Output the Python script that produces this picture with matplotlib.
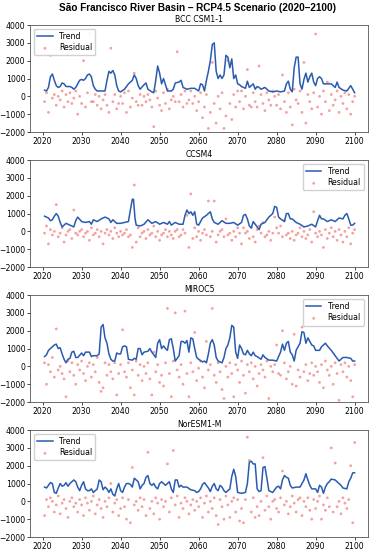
import matplotlib
matplotlib.use("Agg")
import matplotlib.pyplot as plt
import numpy as np

models = ["BCC CSM1-1", "CCSM4", "MIROC5", "NorESM1-M"]
legend_locs = ["upper left", "upper right", "upper right", "upper left"]

# trend (smoothed): (year, value)
bcc_x = [2020.5, 2021, 2021.5, 2022, 2022.5, 2023, 2023.5, 2024, 2024.5, 2025, 2025.5, 2026, 2027, 2027.5, 2028,
         2028.5, 2029, 2029.5, 2030, 2030.5, 2031, 2031.5, 2032, 2032.5, 2033, 2033.5, 2034, 2035, 2036, 2036.5,
         2037, 2037.5, 2038, 2038.5, 2039, 2039.5, 2040, 2041, 2042, 2043, 2043.5, 2044, 2044.5, 2045, 2046,
         2046.5, 2047, 2048, 2048.5, 2049, 2049.5, 2050, 2050.5, 2051, 2051.5, 2052, 2053, 2053.5, 2054, 2055,
         2055.5, 2056, 2057, 2058, 2059, 2060, 2060.5, 2061, 2061.5, 2062, 2062.5, 2063, 2063.5, 2064, 2064.5,
         2065, 2065.5, 2066, 2066.5, 2067, 2067.5, 2068, 2068.5, 2069, 2069.5, 2070, 2070.5, 2071, 2072, 2072.5,
         2073, 2074, 2074.5, 2075, 2075.5, 2076, 2077, 2078, 2079, 2080, 2081, 2082, 2082.5, 2083, 2083.5, 2084,
         2084.5, 2085, 2085.5, 2086, 2086.5, 2087, 2087.5, 2088, 2088.5, 2089, 2089.5, 2090, 2090.5, 2091, 2091.5,
         2092, 2094, 2095, 2095.5, 2096, 2097, 2098, 2099, 2099.5, 2100]
bcc_y = [350, 300, 500, 1100, 1250, 900, 600, 500, 550, 750, 700, 550, 550, 500, 400,
         500, 700, 900, 950, 900, 1000, 1200, 1250, 1100, 600, 400, 300, 300, 300, 900,
         1400, 1300, 1450, 1200, 600, 300, 250, 400, 700, 900, 1200, 1000, 600, 400, 650,
         750, 400, 250, 200, 900, 1700, 1300, 700, 1000, 650, 300, 300, 400, 750, 800,
         900, 500, 400, 450, 450, 300, 700, 650, 300, 900, 1400, 2000, 2900, 3000, 1400,
         1000, 1200, 1000, 1200, 2300, 2200, 1600, 2100, 1000, 1200, 700, 650, 550, 450, 850,
         500, 700, 400, 550, 500, 400, 500, 300, 250, 300, 250, 300, 700, 850, 400, 250,
         1600, 2200, 2200, 700, 400, 950, 1300, 800, 1100, 1300, 800, 600, 1000, 1100, 1000,
         700, 700, 500, 800, 500, 350, 300, 600, 400, 200]

ccsm_x = [2020.5, 2021.5, 2022, 2022.5, 2023, 2023.5, 2024, 2024.5, 2025, 2026, 2027, 2028, 2028.5, 2029, 2030,
          2031, 2032, 2032.5, 2033, 2034, 2035, 2036, 2037, 2037.5, 2038, 2039, 2040, 2041, 2042, 2042.5,
          2043, 2043.3, 2043.7, 2044, 2045, 2046, 2047, 2048, 2049, 2050, 2051, 2052, 2052.5, 2053, 2054,
          2055, 2056, 2056.5, 2057, 2057.5, 2058, 2058.5, 2059, 2059.5, 2060, 2061, 2062, 2063, 2063.5, 2064,
          2065, 2066, 2067, 2068, 2069, 2070, 2071, 2071.5, 2072, 2072.5, 2073, 2073.5, 2074, 2075, 2075.5,
          2076, 2077, 2078, 2079, 2079.5, 2080, 2080.5, 2081, 2082, 2082.5, 2083, 2083.5, 2084, 2085, 2086,
          2087, 2088, 2089, 2090, 2090.5, 2091, 2091.5, 2092, 2093, 2094, 2095, 2096, 2097, 2097.5, 2098,
          2098.5, 2099, 2099.5, 2100]
ccsm_y = [850, 750, 600, 650, 850, 1000, 850, 500, 250, 450, 350, 250, 600, 800, 550,
          500, 550, 400, 650, 550, 700, 800, 700, 500, 650, 450, 450, 500, 550, 1200,
          1800, 1800, 700, 350, 300, 400, 650, 450, 550, 400, 500, 400, 550, 350, 500,
          400, 400, 900, 1200, 1000, 1100, 900, 1100, 400, 350, 750, 900, 1100, 700, 500,
          400, 600, 450, 450, 500, 350, 500, 900, 950, 700, 300, 200, 550, 250, 100,
          400, 500, 800, 1000, 1400, 1350, 800, 700, 550, 1000, 1000, 700, 700, 500, 400,
          250, 300, 400, 250, 600, 900, 700, 700, 550, 650, 550, 750, 700, 900, 1000,
          700, 350, 350, 450]

miroc_x = [2020.5, 2021, 2021.5, 2022, 2022.5, 2023, 2023.5, 2024, 2024.5, 2025, 2025.5, 2026, 2026.5, 2027,
           2027.5, 2028, 2028.5, 2029, 2030, 2030.5, 2031, 2032, 2032.5, 2033, 2034, 2034.5, 2035, 2035.5,
           2036, 2036.5, 2037, 2037.5, 2038, 2038.5, 2039, 2039.5, 2040, 2040.5, 2041, 2041.5, 2042, 2043,
           2043.5, 2044, 2044.5, 2045, 2045.5, 2046, 2047, 2047.5, 2048, 2049, 2049.5, 2050, 2050.5, 2051,
           2051.5, 2052, 2052.5, 2053, 2053.5, 2054, 2055, 2055.5, 2056, 2056.5, 2057, 2057.5, 2058, 2058.5,
           2059, 2059.5, 2060, 2061, 2061.5, 2062, 2062.5, 2063, 2063.5, 2064, 2064.5, 2065, 2066, 2066.5,
           2067, 2067.5, 2068, 2068.5, 2069, 2069.5, 2070, 2070.5, 2071, 2071.5, 2072, 2072.5, 2073, 2073.5,
           2074, 2074.5, 2075, 2076, 2076.5, 2077, 2078, 2079, 2080, 2081, 2081.5, 2082, 2082.5, 2083,
           2083.5, 2084, 2084.5, 2085, 2086, 2086.5, 2087, 2087.5, 2088, 2088.5, 2089, 2089.5, 2090, 2091,
           2091.5, 2092, 2092.5, 2093, 2094, 2095, 2096, 2096.5, 2097, 2098, 2099, 2099.5, 2100]
miroc_y = [550, 650, 900, 1000, 1100, 1200, 1250, 1000, 1050, 700, 400, 200, 400, 450,
           800, 850, 500, 500, 750, 600, 800, 800, 550, 600, 600, 700, 2200, 2350,
           1600, 1300, 700, 400, 300, 300, 750, 700, 700, 1100, 1150, 1100, 400, 350,
           450, 400, 1000, 1000, 650, 800, 850, 1000, 800, 500, 1300, 1500, 1000, 1150,
           1000, 900, 1500, 1550, 1000, 300, 600, 1400, 1400, 1300, 1450, 800, 1600, 1550,
           1000, 500, 400, 250, 300, 200, 700, 1300, 1500, 1200, 500, 300, 200, 500,
           1000, 1200, 1600, 2300, 2200, 800, 450, 1200, 1000, 700, 650, 900, 700, 600,
           800, 600, 550, 400, 650, 500, 350, 350, 300, 800, 1250, 900, 1300, 1400,
           800, 650, 300, 900, 1300, 1950, 1900, 1300, 1600, 1400, 1200, 1150, 900, 900,
           1100, 1200, 1300, 1150, 900, 600, 300, 400, 500, 500, 450, 300, 300]

nor_x = [2020.5, 2021, 2021.5, 2022, 2022.5, 2023, 2023.5, 2024, 2024.5, 2025, 2025.5, 2026, 2026.5, 2027,
         2027.5, 2028, 2028.5, 2029, 2029.5, 2030, 2030.5, 2031, 2031.5, 2032, 2032.5, 2033, 2033.5, 2034,
         2034.5, 2035, 2035.5, 2036, 2036.5, 2037, 2037.5, 2038, 2038.5, 2039, 2039.5, 2040, 2040.5, 2041,
         2041.5, 2042, 2042.5, 2043, 2043.5, 2044, 2044.5, 2045, 2045.5, 2046, 2046.5, 2047, 2047.5, 2048,
         2048.5, 2049, 2049.5, 2050, 2050.5, 2051, 2051.5, 2052, 2052.5, 2053, 2053.5, 2054, 2054.5, 2055,
         2055.5, 2056, 2057, 2058, 2059, 2059.5, 2060, 2060.5, 2061, 2061.5, 2062, 2062.5, 2063, 2063.5,
         2064, 2064.5, 2065, 2065.5, 2066, 2066.5, 2067, 2068, 2068.5, 2069, 2069.5, 2070, 2071, 2072,
         2072.5, 2073, 2073.5, 2074, 2074.5, 2075, 2075.5, 2076, 2076.5, 2077, 2077.5, 2078, 2079, 2080,
         2080.5, 2081, 2081.5, 2082, 2082.5, 2083, 2083.5, 2084, 2085, 2086, 2086.5, 2087, 2087.5, 2088,
         2088.5, 2089, 2090, 2090.5, 2091, 2091.5, 2092, 2092.5, 2093, 2093.5, 2094, 2095, 2096, 2096.5,
         2097, 2098, 2098.5, 2099, 2099.5, 2100]
nor_y = [800, 750, 900, 1050, 1000, 500, 450, 750, 1000, 850, 900, 1050, 850, 1000,
         1100, 1200, 1100, 800, 600, 900, 1100, 700, 600, 600, 700, 500, 600, 700,
         1200, 1100, 650, 800, 700, 500, 700, 400, 300, 700, 1000, 600, 500, 800,
         1000, 1000, 950, 800, 1300, 1200, 1100, 700, 900, 1000, 1350, 1450, 1000, 900,
         1000, 800, 700, 1000, 1100, 1000, 900, 1000, 1100, 700, 500, 1200, 1200, 800,
         900, 800, 800, 650, 600, 500, 550, 700, 950, 1050, 900, 750, 550, 850,
         1000, 700, 600, 900, 800, 600, 500, 700, 1400, 1800, 1400, 500, 450, 500,
         1000, 2200, 2250, 2100, 2100, 700, 550, 600, 1900, 1950, 1300, 600, 500, 800,
         850, 700, 1200, 1450, 1350, 1300, 900, 750, 800, 800, 1000, 1200, 1550, 1200,
         900, 700, 700, 500, 900, 800, 450, 800, 1000, 1100, 1250, 1200, 1000, 900,
         750, 700, 1100, 1300, 1600, 1600]

# residuals, every half year from 2020.5 to 2100
res_years = np.arange(2020.5, 2100.01, 0.5)
bcc_res = [-300, 200, -900, 2300, -100, 100, -500, 0, -200, 300,
           -600, 100, -300, 200, -400, -100, 300, -1000, 0, -400,
           2000, -600, 200, 3500, -300, -300, 100, -500, 0, -700,
           -200, 100, -500, -900, 2700, -300, 100, -700, -400, 0,
           -400, 200, -900, 300, -600, -100, 1300, -300, -500, 100,
           -500, 0, -300, 100, -200, -600, -1700, 300, -100, -500,
           -800, 200, -400, 400, -700, -200, 0, -300, 2500, -300,
           100, -600, 300, -400, -200, 300, -400, 0, -800, -300,
           200, -1200, -600, 100, -1800, -900, 1900, -400, -1500, 0,
           -700, 200, -1800, -1100, 2000, -400, -1300, 100, -600, 300,
           -300, 300, -700, 0, 1500, -500, -600, 200, -300, -600,
           1700, 100, -400, -800, 200, -200, -500, 300, 0, -500,
           100, -700, 1200, -300, -900, 200, -600, -1600, 400, -200,
           -400, 300, -900, 1900, -1500, 100, -300, -700, 200, 3500,
           -600, 0, -1000, 300, -300, 800, -800, 100, -500, -200,
           300, -900, 0, -400, 200, -700, 100, -1000, -300, 0]
ccsm_res = [-100, 300, -700, 100, -200, 0, 1500, -300, -100, 200,
            -600, -200, 0, 100, -400, 1200, -100, -200, 0, 100,
            -300, -100, 0, -500, 200, -200, -100, 100, -300, 0,
            -700, -100, 100, -200, 0, -400, 200, -100, -300, 0,
            -200, -100, 100, -300, -200, -900, 2600, -600, 200, -300,
            -100, 0, -400, 100, -200, -100, 300, -300, 0, -500,
            -200, -100, 100, -300, 0, -200, -400, 0, 100, -300,
            -200, 100, -100, 900, -900, 2100, -400, 200, -300, 0,
            -500, -100, 100, -200, 1700, -300, 0, 1700, -600, -200,
            0, 100, -300, 700, -200, -100, -500, 0, -300, 200,
            -100, -700, 200, -100, 0, -400, 200, -300, -600, 100,
            300, -100, 500, -300, -200, 0, -500, -100, 800, 200,
            -100, 300, -300, 600, -200, -100, -400, 0, -500, -200,
            -100, 200, -300, 0, -400, -200, 100, -600, 1100, -100,
            -300, 0, -200, -900, 100, -400, -100, 200, -300, 0,
            -500, 100, -200, -600, 0, -300, 200, -700, -100, 100]
miroc_res = [200, -1000, 100, -300, 500, -600, 2100, -200, 0, -400,
             -700, -1700, 300, -300, 200, -500, -1000, 100, -200, 300,
             -400, -800, 0, 200, -600, 100, -300, 500, -900, -1400,
             -1200, 200, -500, 100, -300, -700, 200, -1600, -400, 100,
             2050, -300, -600, 200, -1200, -200, -1600, 300, -500, 100,
             -800, 0, -400, 200, -700, -1600, 800, -300, 100, -900,
             -500, -1100, 200, 3250, -400, -1700, 300, 3000, -200, -600,
             100, -1000, 3100, -400, -1700, 200, -300, 1900, -800, -100,
             300, -600, -1200, 1400, -200, 100, 3250, -500, -900, 200,
             -300, -1300, -1800, 0, -600, 200, -400, -1700, 100, -200,
             -900, 300, -500, -1500, 100, -300, 200, -700, 0, -1100,
             -400, 100, -200, -600, 300, -1800, 0, -300, 100, 1200,
             -400, -500, 2000, 200, -700, -300, 0, -1000, 1800, -1100,
             -200, -600, 2200, -300, 100, -800, -400, 200, -500, 0,
             -300, -900, 100, -1200, 300, -200, -500, 0, -1000, 200,
             -400, -1900, 100, -300, 200, -600, 0, -800, -1700, 100]
nor_res = [-800, 100, -300, 200, 0, -600, -200, 300, -700, -100,
           100, -400, -900, 0, 200, -300, -100, -600, 100, -200,
           -800, 200, -100, -500, 0, 300, -700, -200, 100, -400,
           -900, 0, -300, 200, 1000, -600, -100, 100, -800, -400,
           200, -300, -1000, 100, -1200, 1900, -200, 0, -500, 200,
           -300, 100, -800, 2750, -400, 0, -700, 200, -100, -1000,
           100, -300, 0, 2100, -600, 200, 2850, -200, 300, -900,
           -100, -400, 200, 0, -700, -200, 100, -500, 0, -300,
           200, -900, -100, 300, -600, 0, -400, 200, -800, -1300,
           100, -300, -1000, 300, -200, -900, 0, 200, -600, 100,
           -1100, -400, -1200, 100, 3600, 2300, -600, 200, -900, -300,
           -800, 0, 2450, -500, 300, -300, -1000, 0, 100, -400,
           -600, 200, 1700, -200, 0, -700, -300, 300, -100, -600,
           100, 200, -800, 0, -300, 200, -500, -1000, 100, -400,
           0, 300, -1000, -200, -500, 200, -300, 3000, -600, 2150,
           -300, 0, -700, 200, -100, -400, 100, 2000, -1200, 3300]

trend_x = [bcc_x, ccsm_x, miroc_x, nor_x]
trend_y = [bcc_y, ccsm_y, miroc_y, nor_y]
residuals = [bcc_res, ccsm_res, miroc_res, nor_res]

plt.rcParams['font.size'] = 5.6

fig = plt.figure(figsize=(3.72, 5.5), dpi=100)
fig.suptitle("São Francisco River Basin – RCP4.5 Scenario (2020–2100)",
             x=0.53, y=0.995, fontsize=7.2, fontweight='bold', family='Liberation Sans')

bottoms = [0.76, 0.5145, 0.269, 0.0236]
for i, name in enumerate(models):
    ax = fig.add_axes([0.081, bottoms[i], 0.908, 0.1945])
    ax.plot(trend_x[i], trend_y[i], color='#2a5bb0', lw=1.1, label='Trend')
    ax.scatter(res_years, residuals[i], marker='o', s=4, color='#e8302a', alpha=0.45,
               edgecolors='none', label='Residual')
    ax.set_title(name, fontsize=5.6, pad=2)
    ax.set_ylim(-2000, 4000)
    ax.set_yticks(range(-2000, 4001, 1000))
    ax.set_xlim(2016.8, 2103.4)
    ax.set_xticks(range(2020, 2101, 10))
    ax.tick_params(length=2, width=0.5, pad=1.5)
    for s in ax.spines.values():
        s.set_linewidth(0.6)
        s.set_color('#555555')
    ax.legend(loc=legend_locs[i], fontsize=5.6, handlelength=2, borderpad=0.4,
              labelspacing=0.3, framealpha=0.9)

fig.savefig("out.png", dpi=100)
